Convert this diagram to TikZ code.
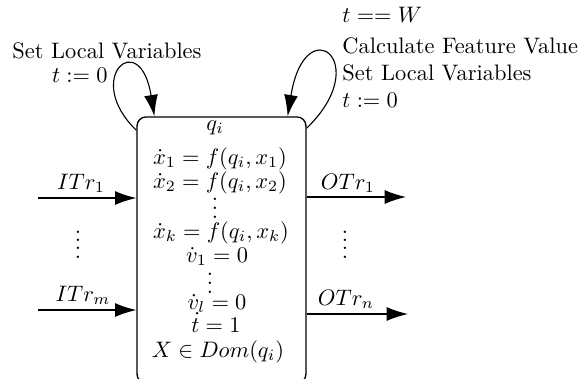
\documentclass[tikz,border=0pt]{standalone}
\usetikzlibrary{arrows.meta,calc}
\newcommand{\fourdots}{\vbox{\baselineskip3.7pt\lineskiplimit0pt\hbox{.}\hbox{.}\hbox{.}\hbox{.}}}
\begin{document}
\begin{tikzpicture}[x=0.4464pt,y=-0.4464pt,
  statebox/.style={draw,line width=0.6pt,rounded corners=4pt,minimum width=75.4pt,minimum height=118.8pt,inner sep=0pt},
  arr/.style={line width=0.5pt,-{Latex[length=9.5pt,width=6.2pt]}},
  txt/.style={inner sep=0pt,anchor=base},
  ltxt/.style={inner sep=0pt,anchor=base west},
  rtxt/.style={inner sep=0pt,anchor=base east}]
\useasboundingbox (0,0) rectangle (580,378);
% state box
\node[statebox] (q) at (221.5,250) {};
% contents
\node[txt] (qn) at (215,130) {$q_i$};
\node[txt] (e1) at (220,164) {$\dot{x}_1 = f(q_i,x_1)$};
\node[txt] (e2) at (220,188) {$\dot{x}_2 = f(q_i,x_2)$};
\node[txt] (d1) at (215,218) {$\vdots$};
\node[txt] (ek) at (221,238) {$\dot{x}_k = f(q_i,x_k)$};
\node[txt] (v1) at (217,262) {$\dot{v}_1 = 0$};
\node[txt] (d2) at (210,293) {$\vdots$};
\node[txt] (vl) at (217,309) {$\dot{v}_l = 0$};
\node[txt] (tt) at (216,332) {$\dot{t} = 1$};
\node[txt] (dom) at (218,357) {$X \in Dom(q_i)$};
% self loops
\draw[arr] ($(q.north west)+(0,14)$) .. controls (82,78) and (140,26) .. ($(q.north west)+(18,0)$);
\draw[arr] ($(q.north east)+(0,12)$) .. controls (375,62) and (305,8) .. ($(q.north east)+(-19,0)$);
% loop labels
\node[ltxt] (ls1) at (12,58) {Set Local Variables};
\node[rtxt] (ls2) at (108,82) {$t := 0$};
\node[ltxt] (rs1) at (342,22) {$t == W$};
\node[ltxt] (rs2) at (342,53) {Calculate Feature Value};
\node[ltxt] (rs3) at (342,80) {Set Local Variables};
\node[ltxt] (rs4) at (342,107) {$t := 0$};
% inputs
\coordinate (i1) at (38,198);
\coordinate (im) at (38,310);
\draw[arr] (i1) -- (i1 -| q.west);
\draw[arr] (im) -- (im -| q.west);
\node[txt] (li1) at (81,189) {$ITr_1$};
\node[txt] (lim) at (83,301) {$ITr_m$};
\node[txt] (di) at (78,258) {\fourdots};
% outputs
\coordinate (o1) at (406,197);
\coordinate (on) at (408,314);
\draw[arr] (o1 -| q.east) -- (o1);
\draw[arr] (on -| q.east) -- (on);
\node[txt] (lo1) at (348,189) {$OTr_1$};
\node[txt] (lon) at (346,305) {$OTr_n$};
\node[txt] (do) at (345,258) {\fourdots};
\end{tikzpicture}
\end{document}
